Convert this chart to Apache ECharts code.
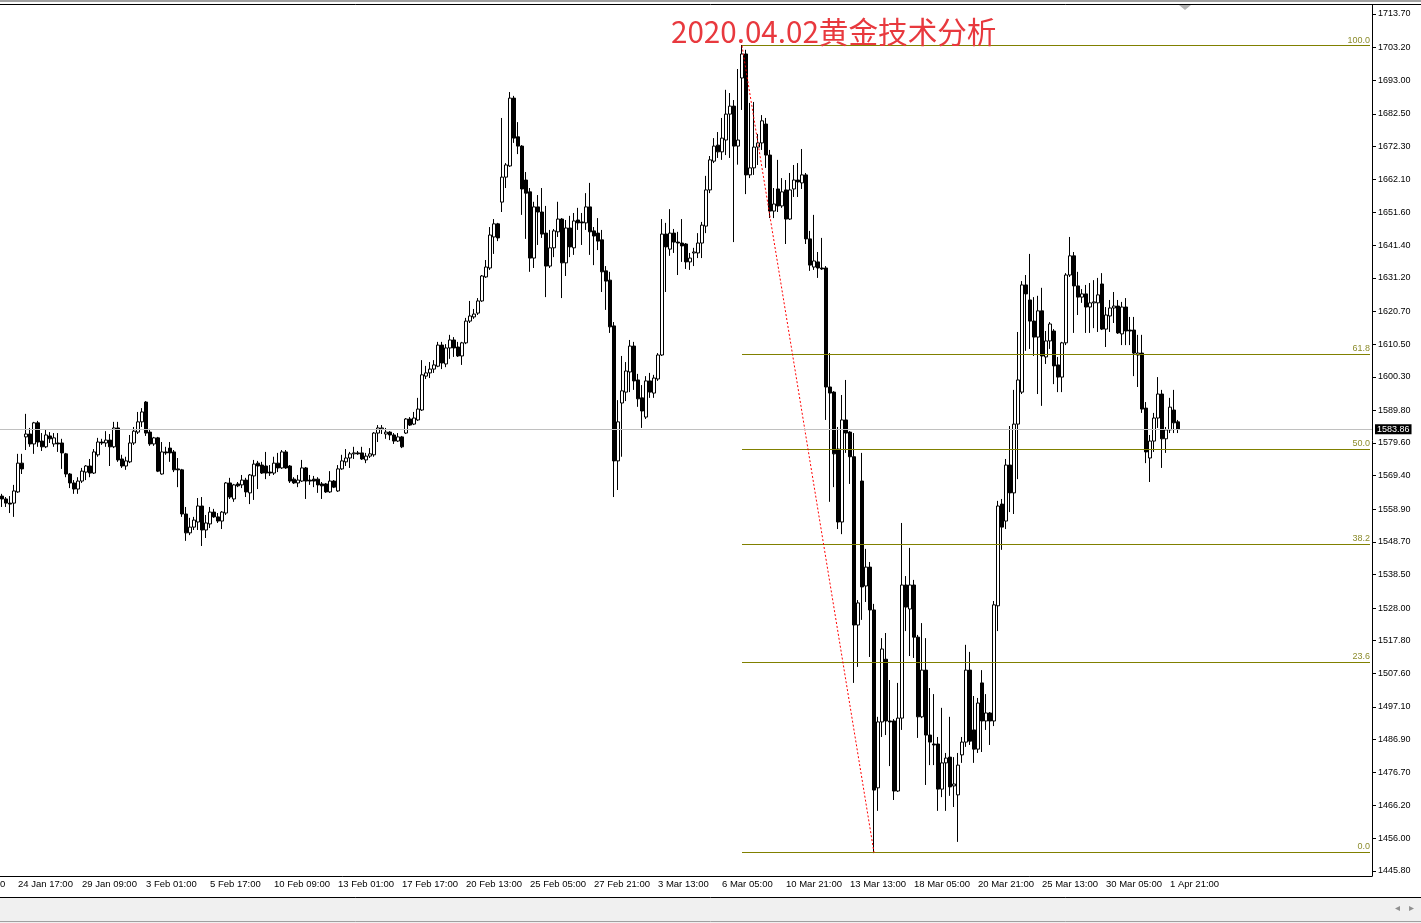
<!DOCTYPE html>
<html><head><meta charset="utf-8">
<script src="https://cdn.jsdelivr.net/npm/echarts@6/dist/echarts.min.js"></script>
<style>html,body{margin:0;padding:0;background:#fff;}#c{width:1421px;height:923px;}</style>
</head><body><div id="c"></div>
<script>
// H4 bars, time labels every 16 bars starting at bar 4
const tickLabels = ["24 Jan 17:00","29 Jan 09:00","3 Feb 01:00","5 Feb 17:00","10 Feb 09:00","13 Feb 01:00","17 Feb 17:00","20 Feb 13:00","25 Feb 05:00","27 Feb 21:00","3 Mar 13:00","6 Mar 05:00","10 Mar 21:00","13 Mar 13:00","18 Mar 05:00","20 Mar 21:00","25 Mar 13:00","30 Mar 05:00","1 Apr 21:00"];
const firstTickIndex = 4;
const tickStep = 16;
const totalSlots = 343;
const priceTicks = [1713.70,1703.20,1693.00,1682.50,1672.30,1662.10,1651.60,1641.40,1631.20,1620.70,1610.50,1600.30,1589.80,1579.60,1569.40,1558.90,1548.70,1538.50,1528.00,1517.80,1507.60,1497.10,1486.90,1476.70,1466.20,1456.00,1445.80];

// [open, close, low, high]
const seg1 = [
[1563.0,1562.1,1559.6,1563.7],[1562.1,1560.8,1559.6,1562.7],[1560.8,1560.5,1557.7,1563.0],[1560.8,1564.6,1556.5,1566.5],
[1564.3,1573.3,1564.0,1576.2],[1573.3,1571.5,1569.9,1576.2],[1581.5,1582.4,1577.4,1588.7],[1582.4,1579.3,1578.4,1584.3],
[1579.3,1585.9,1576.2,1586.2],[1585.9,1579.9,1578.4,1586.5],[1580.2,1578.4,1577.1,1582.7],[1578.4,1582.1,1578.0,1583.7],
[1581.8,1580.9,1579.6,1583.0],[1579.3,1581.2,1578.4,1582.7],[1579.6,1579.3,1576.8,1582.7],[1579.6,1576.5,1571.5,1580.9],
[1576.2,1569.9,1568.9,1576.5],[1569.9,1567.1,1565.5,1570.2],[1567.1,1565.2,1563.7,1568.0],[1565.2,1567.7,1563.7,1568.9],
[1567.7,1570.8,1567.1,1571.8],[1570.5,1572.4,1568.0,1572.7],[1572.4,1570.2,1568.9,1574.6],[1570.2,1576.8,1569.9,1577.7],
[1575.9,1579.9,1575.3,1581.2],[1579.9,1579.6,1579.0,1580.9],[1579.6,1580.5,1578.4,1583.3],[1580.5,1578.4,1572.4,1582.4],
[1578.4,1584.3,1578.0,1586.2],[1584.3,1574.3,1573.7,1586.2],[1574.6,1572.4,1571.8,1575.9],[1572.4,1574.0,1571.2,1575.3],
[1573.7,1579.6,1573.3,1582.1],[1579.6,1583.3,1579.0,1584.6],[1583.0,1586.2,1582.4,1589.3],[1586.2,1589.3,1584.6,1590.5],
[1592.4,1582.7,1581.8,1592.7],[1583.0,1579.3,1578.7,1584.0],[1579.3,1581.2,1578.7,1581.5],[1581.2,1570.8,1570.5,1581.5],
[1569.9,1576.8,1569.7,1579.9],[1576.8,1576.5,1575.9,1578.4],[1578.0,1576.5,1573.7,1579.9],[1576.8,1571.2,1570.5,1577.4],
[1571.5,1571.2,1565.8,1574.9],[1571.2,1557.4,1556.5,1571.5],[1557.4,1551.5,1549.0,1559.6],[1551.5,1553.3,1550.8,1556.2],
[1553.3,1555.5,1552.4,1556.5],[1554.9,1559.9,1552.4,1562.4]
];
const seg2 = [
[1559.9,1552.4,1547.4,1562.7],[1552.4,1554.6,1549.9,1557.1],[1554.3,1558.0,1553.0,1559.6],[1558.0,1556.5,1556.2,1559.0],
[1556.5,1555.2,1554.6,1557.7],[1555.2,1558.0,1552.7,1558.3],[1557.7,1567.1,1557.1,1567.4],[1567.1,1562.7,1562.1,1568.7],
[1562.1,1566.5,1561.2,1566.8],[1566.8,1566.2,1565.8,1567.4],[1566.5,1568.0,1565.5,1569.6],[1568.0,1564.3,1562.7,1568.7],
[1564.0,1569.6,1560.5,1569.9],[1569.3,1573.0,1561.8,1574.3],[1573.3,1572.4,1565.2,1574.0],[1572.7,1570.2,1569.9,1573.7],
[1572.4,1570.2,1568.3,1576.8],[1570.5,1570.2,1569.3,1572.7],[1570.2,1573.3,1569.6,1575.3],[1573.3,1571.8,1570.5,1576.5],
[1571.8,1576.8,1571.5,1577.4],[1576.8,1571.8,1571.5,1577.4],[1572.4,1567.7,1567.1,1572.7],[1568.3,1567.1,1566.8,1568.9],
[1567.1,1568.0,1565.8,1569.6],[1567.7,1571.8,1567.4,1574.3],[1571.8,1567.7,1562.1,1572.1],[1568.0,1567.7,1566.5,1569.6],
[1568.3,1567.7,1565.8,1569.3],[1568.3,1566.5,1564.0,1568.9],[1566.8,1566.2,1562.1,1567.4],[1566.8,1564.3,1564.0,1567.1],
[1564.3,1567.7,1564.0,1570.8],[1567.7,1565.8,1565.5,1568.0],[1564.6,1571.5,1564.3,1572.7],[1571.5,1574.0,1571.2,1575.9],
[1573.7,1574.9,1572.4,1577.7],[1574.9,1576.2,1571.8,1576.8],[1576.2,1576.5,1574.6,1578.4],[1576.5,1576.2,1575.9,1577.1],
[1576.5,1574.6,1574.3,1578.4],[1574.3,1575.5,1573.3,1576.5],[1575.5,1576.2,1574.9,1578.0],[1575.9,1582.7,1575.3,1583.0],
[1582.7,1584.3,1579.9,1585.2],[1584.0,1584.3,1582.4,1585.2],[1582.4,1583.0,1580.9,1584.3],[1583.0,1582.1,1580.5,1583.3],
[1582.1,1580.2,1579.3,1582.7],[1580.2,1581.5,1579.9,1582.7],[1581.5,1578.4,1578.0,1581.8],[1582.7,1587.1,1582.4,1587.4],
[1587.1,1585.2,1584.9,1587.7],[1585.5,1587.4,1585.2,1589.3],[1586.8,1590.2,1586.5,1593.7]
];
const seg3 = [
[1589.9,1600.9,1589.6,1605.5],[1600.5,1601.5,1599.6,1603.7],[1601.5,1602.7,1599.9,1604.9],[1602.7,1604.0,1601.5,1605.5],
[1603.6,1610.2,1603.3,1611.2],[1610.2,1604.6,1602.7,1611.2],[1604.3,1609.3,1603.3,1610.5],[1609.3,1611.8,1605.9,1613.4],
[1611.8,1609.3,1606.5,1612.7],[1609.6,1606.8,1606.5,1611.2],[1606.8,1610.9,1604.0,1611.2],[1610.9,1617.7,1610.5,1618.7],
[1617.7,1619.3,1617.1,1624.0],[1619.0,1619.9,1618.4,1621.5],[1620.2,1624.0,1619.6,1624.9],[1624.0,1631.8,1623.7,1632.1],
[1631.5,1634.6,1631.2,1636.8],[1634.3,1644.6,1633.7,1647.1],[1644.0,1648.1,1638.7,1649.6],[1648.1,1643.7,1642.7,1648.4],
[1654.9,1662.7,1651.8,1681.2],[1662.7,1666.5,1659.3,1667.1],[1666.2,1687.4,1665.9,1689.3],[1687.4,1674.9,1673.4,1688.1],
[1675.3,1672.4,1669.9,1679.9],[1672.4,1659.0,1650.9,1672.7],[1661.8,1657.7,1643.4,1664.3],[1658.1,1637.4,1633.1,1659.3],
[1637.4,1653.4,1634.3,1655.0],[1653.4,1651.8,1641.5,1657.1],[1651.8,1644.9,1643.7,1659.3],[1645.2,1634.9,1625.2,1653.7],
[1634.9,1640.6,1634.3,1646.2],[1640.6,1645.9,1637.7,1646.5],[1645.6,1649.6,1644.0,1655.0],[1649.6,1635.9,1624.9,1649.9],
[1635.9,1646.8,1631.8,1649.3],[1646.8,1640.9,1637.7,1650.6],[1640.6,1649.0,1638.4,1651.5],[1649.3,1648.4,1646.2,1653.1],
[1648.7,1648.4,1641.5,1651.5],[1648.4,1653.4,1646.2,1657.7],[1653.4,1645.6,1638.4,1660.9],[1645.9,1644.3,1635.2,1647.1],
[1645.2,1642.7,1639.9,1649.9],[1643.1,1633.1,1626.8,1646.2],[1633.4,1630.2,1621.2,1634.9],[1630.5,1615.9,1614.0,1633.1],
[1616.2,1574.0,1562.7,1617.4],[1574.0,1586.2,1564.9,1593.0],[1592.1,1595.9,1575.3,1606.8],[1595.5,1602.1,1592.7,1604.9],
[1601.8,1609.9,1595.5,1611.8],[1609.9,1599.0,1596.2,1611.2],[1599.3,1593.4,1590.9,1601.2],[1593.7,1589.6,1584.3,1597.7],
[1587.7,1599.0,1587.1,1600.5],[1599.0,1595.5,1593.7,1601.5],[1595.2,1599.9,1593.7,1600.9],[1599.6,1607.1,1599.0,1607.7],
[1607.1,1644.9,1606.8,1649.6],[1644.9,1640.9,1626.8,1648.4],[1640.2,1645.2,1638.1,1652.7],[1645.2,1642.4,1639.0,1646.5],
[1642.4,1642.1,1632.1,1645.6],[1642.1,1641.2,1636.2,1649.6],[1641.8,1636.2,1634.0,1642.1],[1636.2,1637.4,1633.7,1639.0],
[1639.0,1639.3,1634.9,1640.6],[1639.0,1642.1,1637.4,1645.2],[1642.1,1647.7,1637.4,1648.7],[1647.4,1658.7,1645.2,1663.1],
[1658.7,1668.1,1657.7,1669.3],[1667.7,1672.4,1667.1,1674.9],[1672.7,1670.6,1668.7,1676.8],[1670.6,1674.9,1668.1,1681.2],
[1674.3,1682.4,1669.6,1690.0],[1682.4,1684.9,1668.7,1689.0],[1684.9,1672.4,1642.4,1686.8],[1672.4,1674.3,1666.6,1696.5]
];
const seg4 = [
[1693.7,1701.2,1683.7,1704.0],[1701.2,1663.4,1657.4,1702.5],[1663.4,1665.6,1662.4,1685.9],[1665.6,1672.1,1663.4,1686.2],
[1672.1,1673.4,1666.5,1676.2],[1673.4,1680.3,1671.2,1682.1],[1679.3,1669.6,1665.6,1681.2],[1669.6,1652.1,1649.9,1671.2],
[1652.1,1654.3,1649.9,1659.3],[1659.0,1653.7,1651.8,1668.1],[1653.7,1658.1,1653.1,1662.4],[1658.7,1649.6,1641.8,1661.8],
[1649.6,1658.7,1649.3,1664.0],[1659.0,1661.8,1656.5,1666.5],[1661.8,1661.2,1656.5,1667.1],[1660.9,1663.4,1659.0,1671.5],
[1663.4,1643.4,1641.8,1664.0],[1643.4,1635.2,1633.4,1645.9],[1634.6,1636.5,1633.7,1650.9],[1636.2,1634.3,1631.2,1639.3],
[1634.3,1634.0,1633.7,1643.7],[1634.3,1597.1,1586.8,1634.9],[1597.1,1595.2,1561.2,1607.7],[1595.5,1576.2,1565.8,1595.8],
[1577.7,1554.9,1552.7,1584.6],[1554.9,1586.8,1551.1,1594.6],[1586.8,1582.7,1576.5,1599.3],[1583.0,1575.3,1566.8,1583.3],
[1575.3,1522.7,1504.6,1582.7],[1522.7,1529.6,1509.6,1530.5],[1567.7,1534.6,1524.3,1576.5],[1534.9,1540.8,1529.9,1546.5],
[1540.8,1527.4,1512.7,1542.4],[1527.4,1471.1,1451.4,1529.3],[1471.8,1492.4,1464.6,1494.0],[1492.4,1515.2,1487.7,1518.6],
[1512.0,1492.7,1488.3,1520.2],[1492.7,1492.4,1478.6,1505.5],[1492.7,1470.8,1468.0,1493.3],[1470.8,1493.6,1470.5,1504.6],
[1493.6,1535.2,1489.9,1554.6],[1535.2,1528.3,1520.8,1538.0],[1527.7,1535.2,1513.0,1546.8],[1535.2,1518.9,1512.4,1536.8],
[1518.9,1494.0,1487.4,1519.6],[1494.0,1508.6,1493.6,1523.3],[1508.6,1488.3,1472.7,1518.6],[1488.3,1486.1,1478.9,1503.0],
[1485.5,1485.2,1478.9,1501.1],[1485.5,1471.4,1464.6,1487.7],[1471.4,1479.6,1468.9,1496.8],[1479.6,1481.1,1464.6,1482.7],
[1481.4,1472.1,1469.3,1494.0],[1472.4,1473.0,1465.8,1481.4],[1469.6,1478.9,1454.9,1482.7],[1482.1,1486.1,1479.6,1487.7],
[1486.1,1508.6,1484.6,1516.5],[1508.6,1486.4,1485.2,1514.3],[1489.9,1483.9,1479.6,1500.5],[1483.9,1498.3,1482.7,1499.9]
];
const seg5 = [
[1504.6,1492.7,1483.0,1508.6],[1492.7,1495.2,1489.9,1501.1],[1495.2,1492.7,1485.2,1495.5],[1492.7,1529.0,1491.1,1530.2],
[1528.7,1559.9,1520.8,1561.5],[1560.5,1553.3,1546.2,1562.1],[1555.2,1572.7,1552.7,1574.6],[1572.7,1564.0,1558.0,1584.9],
[1564.0,1585.5,1557.4,1596.2],[1585.5,1599.3,1568.3,1614.3],[1595.5,1629.0,1594.9,1630.2],[1629.0,1626.2,1608.4,1632.1],
[1624.3,1617.7,1609.0,1638.7],[1617.7,1612.7,1606.8,1625.2],[1612.7,1620.9,1594.9,1625.6],[1620.9,1606.8,1591.2,1628.1],
[1606.5,1611.5,1604.3,1614.6],[1611.5,1616.8,1609.0,1617.4],[1614.6,1603.7,1598.0,1615.2],[1604.0,1600.2,1595.5,1606.5],
[1600.2,1610.9,1595.5,1611.2],[1610.9,1632.1,1610.2,1632.7],[1632.1,1638.1,1631.5,1644.0],[1638.1,1628.7,1614.0,1639.3],
[1628.7,1625.2,1619.6,1633.1],[1625.2,1626.2,1623.4,1627.7],[1626.2,1622.1,1614.0,1629.0],[1622.1,1623.4,1614.0,1629.6],
[1623.4,1623.7,1615.5,1630.5],[1623.4,1625.9,1614.3,1631.2],[1629.3,1615.2,1614.9,1632.7],[1615.2,1619.6,1609.6,1622.1],
[1619.3,1621.8,1614.3,1624.3],[1621.8,1622.4,1617.1,1626.8],[1622.4,1614.0,1613.7,1624.3],[1613.7,1622.1,1610.2,1623.7],
[1622.1,1614.6,1610.2,1624.9],[1614.9,1614.6,1610.2,1619.0],[1614.9,1607.7,1600.5,1619.0],[1607.1,1607.7,1597.1,1613.4],
[1607.7,1590.2,1589.0,1613.4],[1590.5,1576.8,1573.3,1592.4],[1574.9,1580.2,1567.4,1582.1],[1580.2,1587.4,1576.8,1589.0],
[1587.4,1594.9,1584.3,1600.2],[1594.9,1580.9,1571.8,1596.2],[1580.9,1583.7,1576.5,1584.6],[1583.7,1590.8,1582.7,1593.7],
[1589.9,1585.9,1582.7,1596.2],[1586.2,1583.86,1582.7,1586.8]
];

const fibHigh = 1703.8, fibLow = 1451.6;
const fibRatios = [1.0, 0.618, 0.5, 0.382, 0.236, 0.0];
const fibStartIndex = 185, fibLowIndex = 218;
const lastPrice = 1583.86;
const titleText = "2020.04.02黄金技术分析";

const ohlc = [].concat(seg1, seg2, seg3, seg4, seg5);
const categories = [];
for (let i = 0; i < totalSlots; i++) categories.push(String(i));
function labelAt(i) {
  const j = (i - firstTickIndex) / tickStep;
  return (Number.isInteger(j) && j >= 0 && j < tickLabels.length) ? tickLabels[j] : null;
}

const markData = [];
fibRatios.forEach(r => {
  const v = fibLow + r * (fibHigh - fibLow);
  markData.push([
    {coord: [fibStartIndex, v], lineStyle: {color: '#808000', width: 1, type: 'solid'},
     label: {show: true, formatter: (r * 100).toFixed(1), position: 'insideEndTop', color: '#8c8c2c', fontSize: 9, fontFamily: 'Liberation Sans', distance: [0, 1]}},
    {coord: [totalSlots - 1, v]}
  ]);
});
markData.push([
  {coord: [fibStartIndex, fibHigh], lineStyle: {color: '#ff0000', width: 1, type: [2, 2]}, label: {show: false}},
  {coord: [fibLowIndex, fibLow]}
]);
markData.push({yAxis: lastPrice, lineStyle: {color: '#c0c0c0', width: 1, type: 'solid'},
  label: {show: true, position: 'end', formatter: lastPrice.toFixed(2), color: '#fff', backgroundColor: '#000', padding: [1, 2, 0, 2], fontSize: 9, fontFamily: 'Liberation Sans', distance: 3}});

const chart = echarts.init(document.getElementById('c'), null, {renderer: 'canvas'});
chart.setOption({
  animation: false,
  backgroundColor: '#fff',
  title: {text: titleText, left: 666, top: 12, textStyle: {color: '#e8393e', fontSize: 29.6, fontWeight: 'normal', fontFamily: 'Noto Sans CJK SC'}},
  grid: {left: 0, top: 5, width: 1372, height: 871, containLabel: false},
  xAxis: {
    type: 'category', data: categories, boundaryGap: true,
    axisLine: {lineStyle: {color: '#000', width: 1}},
    axisTick: {interval: (i) => labelAt(i) !== null, alignWithLabel: true, length: 4, lineStyle: {color: '#000'}},
    axisLabel: {interval: (i) => labelAt(i) !== null, formatter: (v) => labelAt(Number(v)) || '', align: 'left', margin: 3, color: '#000', fontSize: 9.5, fontFamily: 'Liberation Sans'},
    splitLine: {show: false}
  },
  yAxis: {
    type: 'value', position: 'right', min: 1444.24, max: 1716.51, scale: true,
    axisLine: {show: true, lineStyle: {color: '#000', width: 1}},
    axisTick: {show: true, customValues: priceTicks, length: 4, lineStyle: {color: '#000'}},
    axisLabel: {customValues: priceTicks, formatter: (v) => Number(v).toFixed(2), margin: 6, fontSize: 9, color: '#000', fontFamily: 'Liberation Sans'},
    splitLine: {show: false}
  },
  series: [{
    type: 'candlestick', data: ohlc, barWidth: 3,
    itemStyle: {color: '#fff', color0: '#000', borderColor: '#000', borderColor0: '#000', borderWidth: 1},
    markLine: {silent: true, symbol: ['none', 'none'], animation: false, data: markData}
  }],
  graphic: [
    {type: 'rect', shape: {x: 0, y: 0, width: 1421, height: 2}, style: {fill: '#a0a0a0'}},
    {type: 'line', shape: {x1: 0, y1: 4.5, x2: 1421, y2: 4.5}, style: {stroke: '#000', lineWidth: 1}},
    {type: 'polygon', shape: {points: [[1179, 5], [1191, 5], [1185, 10]]}, style: {fill: '#b4b4b4'}},
    {type: 'text', x: 0, y: 879, style: {text: '0', fontSize: 9.5, fontFamily: 'Liberation Sans', fill: '#000'}},
    {type: 'rect', shape: {x: 0, y: 897, width: 1421, height: 26}, style: {fill: '#f0f0f0'}},
    {type: 'line', shape: {x1: 0, y1: 897.5, x2: 1421, y2: 897.5}, style: {stroke: '#000', lineWidth: 1}},
    {type: 'line', shape: {x1: 0, y1: 921.5, x2: 1421, y2: 921.5}, style: {stroke: '#a0a0a0', lineWidth: 1}},
    {type: 'text', x: 1395, y: 903, style: {text: '◂', fontSize: 10, fill: '#909090'}},
    {type: 'text', x: 1409, y: 903, style: {text: '▸', fontSize: 10, fill: '#909090'}}
  ]
});
</script>
</body></html>
